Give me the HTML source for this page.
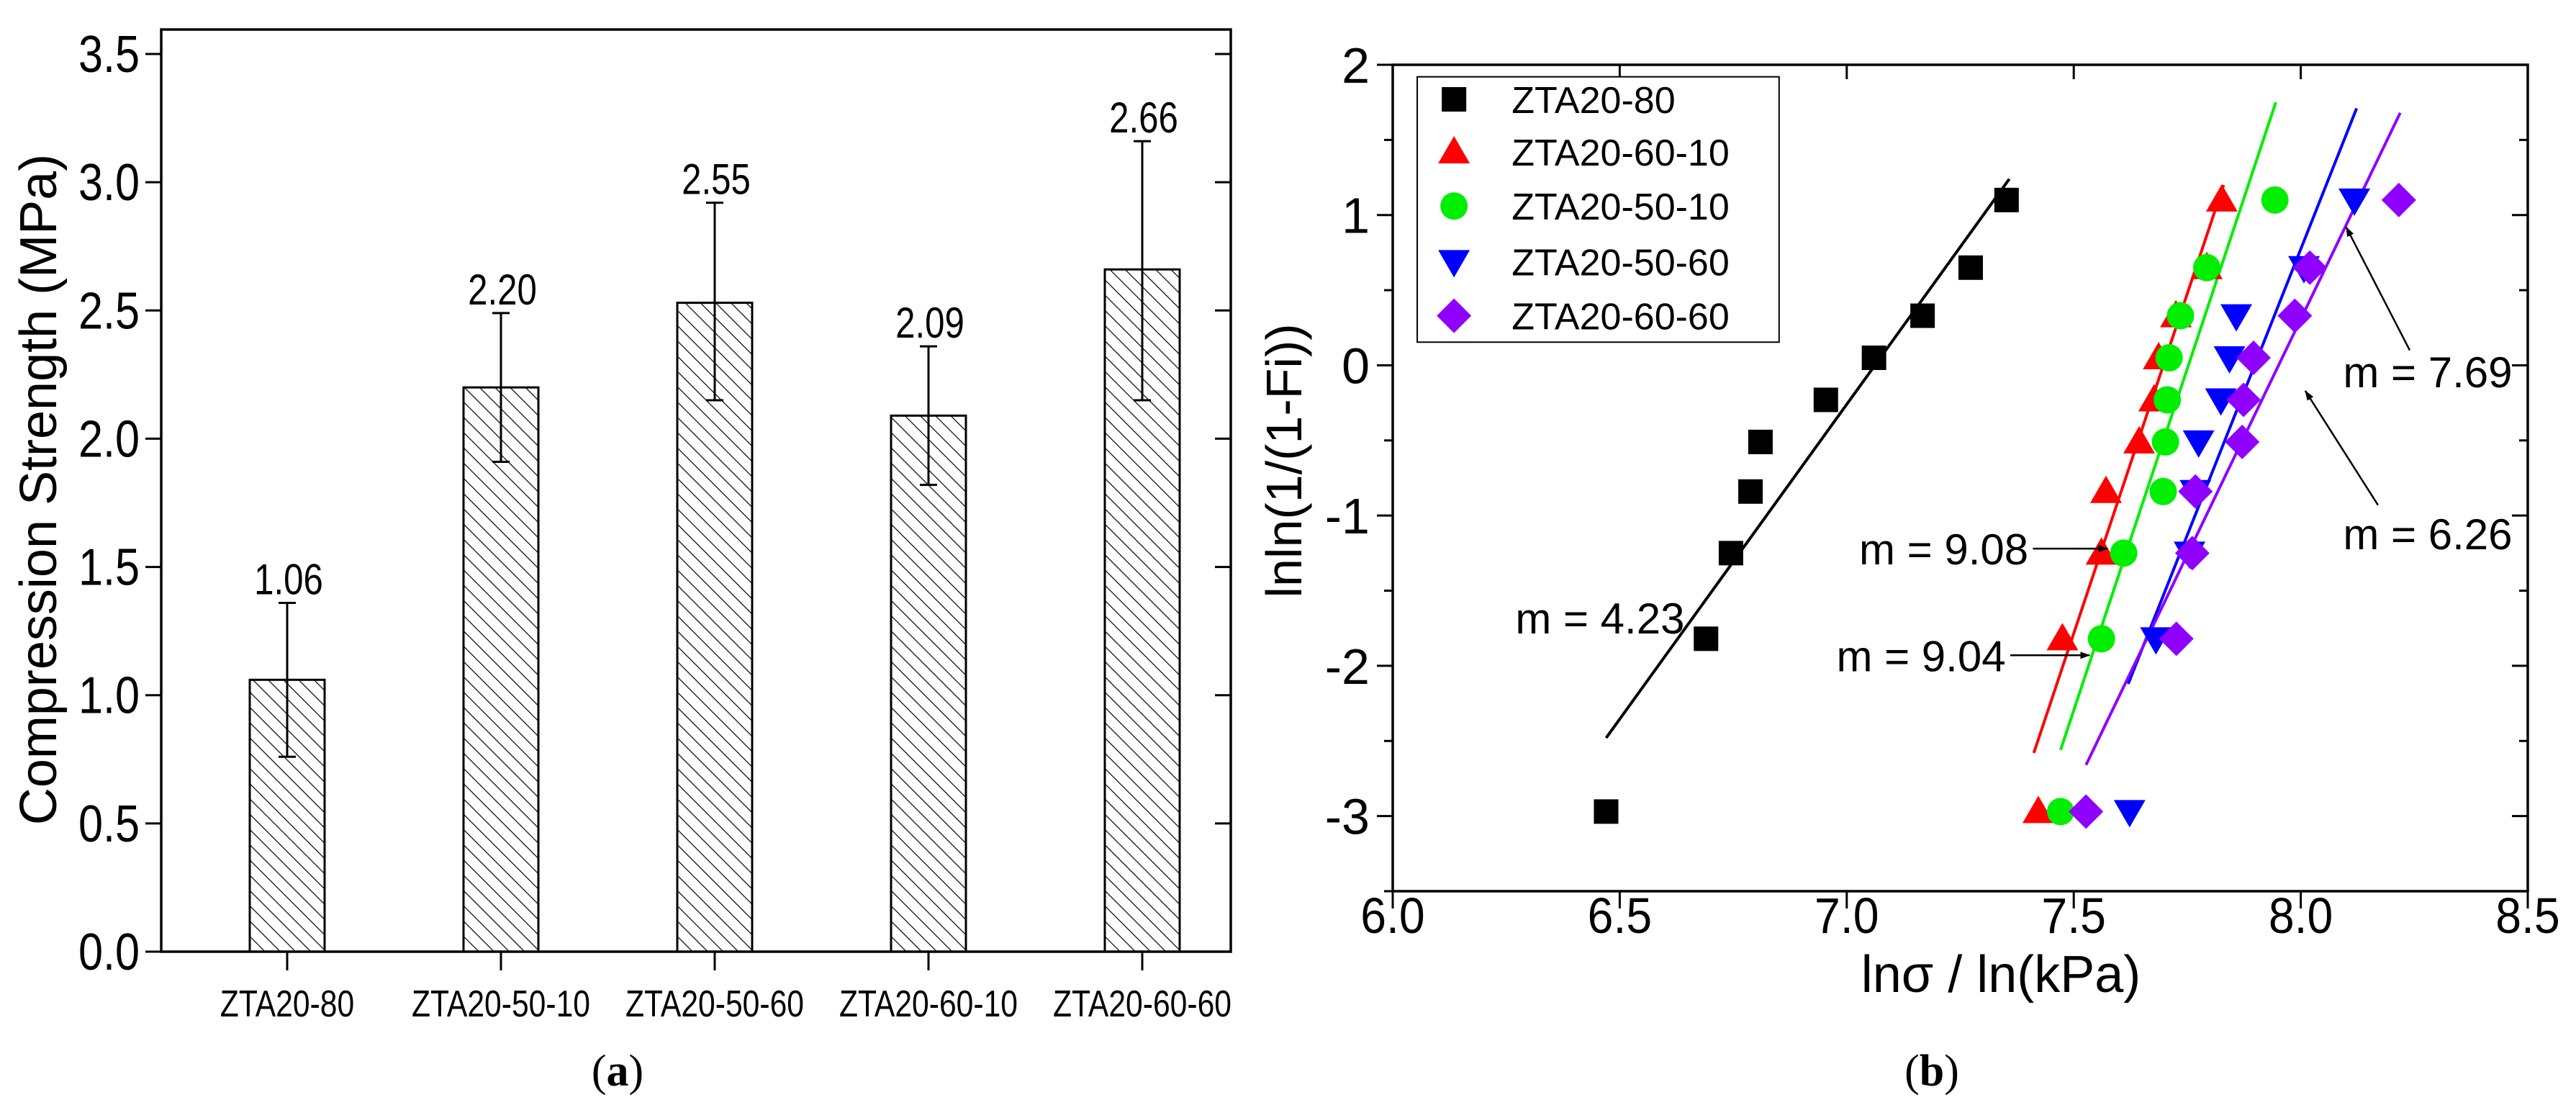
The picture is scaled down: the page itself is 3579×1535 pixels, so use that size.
<!DOCTYPE html>
<html><head><meta charset="utf-8"><title>Compression strength and Weibull plots</title>
<style>html,body{margin:0;padding:0;background:#fff}svg{display:block}text{font-family:"Liberation Sans",Arial,sans-serif;fill:#000}.serif{font-family:"Liberation Serif",serif}</style>
</head><body>
<svg id="fig" xmlns="http://www.w3.org/2000/svg" width="3579" height="1535" viewBox="0 0 3579 1535">
<defs>
<pattern id="hatch" patternUnits="userSpaceOnUse" width="15" height="15" patternTransform="rotate(-45)">
<rect width="15" height="15" fill="#fff"/><line x1="0" y1="0" x2="0" y2="15" stroke="#000" stroke-width="2.4"/>
</pattern>
<marker id="arrow" markerWidth="14" markerHeight="10" refX="13" refY="5" orient="auto" markerUnits="userSpaceOnUse" viewBox="0 0 14 10"><path d="M0,0 L14,5 L0,10 z" fill="#000"/></marker>
</defs>
<g id="chartA"></g>
<g id="chartB"></g>
</svg>
<script>
// ---- Chart (a) data ----
const catsA = ["ZTA20-80","ZTA20-50-10","ZTA20-50-60","ZTA20-60-10","ZTA20-60-60"];
const valsA = [1.06, 2.20, 2.53, 2.09, 2.66];
const valLabelsA = ["1.06","2.20","2.55","2.09","2.66"];
const errLowA = [0.76, 1.91, 2.15, 1.82, 2.15];
const errHighA = [1.36, 2.49, 2.92, 2.36, 3.16];
const yTicksA = [0.0,0.5,1.0,1.5,2.0,2.5,3.0,3.5];

// ---- Chart (b) data ----
const seriesNames = ["ZTA20-80","ZTA20-60-10","ZTA20-50-10","ZTA20-50-60","ZTA20-60-60"];
const yFi = [-2.97,-1.82,-1.25,-0.84,-0.51,-0.23,0.05,0.33,0.65,1.10];
const xBlack = [6.47,6.69,6.745,6.788,6.81,6.954,7.06,7.167,7.273,7.352];
const xRed = [7.422,7.475,7.561,7.571,7.644,7.677,7.687,7.725,7.793,7.826];
const xGreen = [7.471,7.561,7.61,7.697,7.702,7.706,7.71,7.735,7.793,7.943];
const xBlue = [7.623,7.681,7.755,7.768,7.775,7.824,7.843,7.858,8.007,8.118];
const xPurple = [7.527,7.726,7.761,7.768,7.871,7.874,7.896,7.987,8.02,8.216];
const fitX1 = [6.47,7.412,7.471,7.62,7.527];
const fitY1 = [-2.48,-2.58,-2.56,-2.12,-2.66];
const fitX2 = [7.358,7.83,7.945,8.123,8.219];
const fitY2 = [1.24,1.20,1.75,1.71,1.68];
const xTicksB = [6.0,6.5,7.0,7.5,8.0,8.5];
const yTicksB = [2,1,0,-1,-2,-3];

const NS="http://www.w3.org/2000/svg";
function mk(parent, tag, attrs, text){const e=document.createElementNS(NS,tag);for(const k in attrs)e.setAttribute(k,attrs[k]);if(text!==undefined)e.textContent=text;parent.appendChild(e);return e;}
function sx(x,s){return `translate(${x},0) scale(${s},1) translate(${-x},0)`;}

// ===== Chart A =====
const gA=document.getElementById('chartA');
const aL=224,aR=1710,aT=41,aB=1322;
const yA=v=>aB-(v/3.5)*(aB-75);
const xA=i=>399+i*297;
const barW=104;
let e;
catsA.forEach((c,i)=>{
  const x=xA(i);
  e=mk(gA,'rect',{x:x-barW/2,y:yA(valsA[i]),width:barW,height:aB-yA(valsA[i]),fill:'url(#hatch)',stroke:'#000','stroke-width':3});
  
  
  e=mk(gA,'path',{d:`M${x},${yA(errLowA[i])}V${yA(errHighA[i])}M${x-12},${yA(errHighA[i])}H${x+12}M${x-12},${yA(errLowA[i])}H${x+12}`,stroke:'#000','stroke-width':3,fill:'none'});
  
  
  e=mk(gA,'text',{x:x+2,y:yA(errHighA[i])-12,'font-size':60,'text-anchor':'middle',transform:sx(x+2,0.82)},valLabelsA[i]);
  
  
  mk(gA,'line',{x1:x,y1:aB,x2:x,y2:aB+26,stroke:'#000','stroke-width':3});
  e=mk(gA,'text',{x:x,y:1412,'font-size':52,'text-anchor':'middle',transform:sx(x,0.82)},c);
  
  
});
yTicksA.forEach(t=>{
  const y=yA(t);
  mk(gA,'line',{x1:aL-22,y1:y,x2:aL,y2:y,stroke:'#000','stroke-width':3});
  mk(gA,'line',{x1:aR-22,y1:y,x2:aR,y2:y,stroke:'#000','stroke-width':3});
  e=mk(gA,'text',{x:aL-30,y:y+25,'font-size':72,'text-anchor':'end',transform:sx(aL-30,0.85)},t.toFixed(1));
  
  
});
e=mk(gA,'rect',{x:aL,y:aT,width:aR-aL,height:aB-aT,fill:'none',stroke:'#000','stroke-width':3.5});


e=mk(gA,'text',{x:0,y:0,'font-size':72,'text-anchor':'middle',transform:'translate(78,680) rotate(-90)'},'Compression Strength (MPa)');


e=mk(gA,'text',{x:858,y:1508,'font-size':62,'text-anchor':'middle',class:'serif'});
e.innerHTML='(<tspan font-weight="bold">a</tspan>)';



// ===== Chart B =====
const gB=document.getElementById('chartB');
const bL=1935,bR=3512,bT=90,bB=1238;
const xB=v=>bL+(v-6)/2.5*(bR-bL);
const yB=v=>bB-(v+3.5)/5.5*(bB-bT);
xTicksB.forEach(t=>{
  const x=xB(t);
  mk(gB,'line',{x1:x,y1:bB,x2:x,y2:bB+24,stroke:'#000','stroke-width':3});
  mk(gB,'line',{x1:x,y1:bT,x2:x,y2:bT+20,stroke:'#000','stroke-width':3});
  e=mk(gB,'text',{x:x,y:1296,'font-size':70,'text-anchor':'middle',transform:sx(x,0.92)},t.toFixed(1));
  
  
});
for(let t=-3.5;t<=2.01;t+=0.5){
  const y=yB(t),major=Math.abs(t-Math.round(t))<0.01;
  mk(gB,'line',{x1:bL-(major?22:12),y1:y,x2:bL,y2:y,stroke:'#000','stroke-width':3});
  mk(gB,'line',{x1:bR-(major?22:12),y1:y,x2:bR,y2:y,stroke:'#000','stroke-width':3});
}
yTicksB.forEach(t=>{
  e=mk(gB,'text',{x:bL-32,y:yB(t)+25,'font-size':70,'text-anchor':'end'},String(t));
  
  
});
const colors=['#000','#ff0000','#00ee00','#0000ff','#8f00ff'];
seriesNames.forEach((n,i)=>{
  e=mk(gB,'line',{x1:xB(fitX1[i]),y1:yB(fitY1[i]),x2:xB(fitX2[i]),y2:yB(fitY2[i]),stroke:colors[i],'stroke-width':4});
  
  
});
function marker(g,kind,cx,cy,col){
  if(kind===0) return mk(g,'rect',{x:cx-17,y:cy-17,width:34,height:34,fill:col});
  if(kind===1) return mk(g,'polygon',{points:`${cx},${cy-22} ${cx+22},${cy+16} ${cx-22},${cy+16}`,fill:col});
  if(kind===2) return mk(g,'circle',{cx:cx,cy:cy,r:19,fill:col});
  if(kind===3) return mk(g,'polygon',{points:`${cx-22},${cy-16} ${cx+22},${cy-16} ${cx},${cy+22}`,fill:col});
  return mk(g,'polygon',{points:`${cx},${cy-24} ${cx+24},${cy} ${cx},${cy+24} ${cx-24},${cy}`,fill:col});
}
const xsAll=[xBlack,xRed,xGreen,xBlue,xPurple];
xsAll.forEach((xs,i)=>{
  xs.forEach((v,j)=>{
    e=marker(gB,i,xB(v),yB(yFi[j]),colors[i]);
    
    
  });
});
e=mk(gB,'rect',{x:bL,y:bT,width:bR-bL,height:bB-bT,fill:'none',stroke:'#000','stroke-width':3.5});


const lg=mk(gB,'g',{});


mk(lg,'rect',{x:xB(6.054),y:yB(1.92),width:xB(6.851)-xB(6.054),height:yB(0.154)-yB(1.92),fill:'#fff',stroke:'#000','stroke-width':2});
const legY=[1.77,1.42,1.06,0.69,0.33];
seriesNames.forEach((n,i)=>{
  const ge=mk(lg,'g',{});
  
  
  marker(ge,i,xB(6.135),yB(legY[i]),colors[i]);
  mk(ge,'text',{x:xB(6.262),y:yB(legY[i])+19,'font-size':52},n);
});
function ann(txt,tx,ty,anchor,ax1,ay1,ax2,ay2,name){
  const g=mk(gB,'g',{});
  
  
  mk(g,'text',{x:xB(tx),y:yB(ty)+22,'font-size':60,'text-anchor':anchor},txt);
  if(ax1!==null) mk(g,'line',{x1:xB(ax1),y1:yB(ay1),x2:xB(ax2),y2:yB(ay2),stroke:'#000','stroke-width':2.5,'marker-end':'url(#arrow)'});
}
ann('m = 4.23',6.27,-1.68,'start',null,0,0,0,'annotation-m-4-23');
ann('m = 9.08',7.40,-1.22,'end',7.41,-1.22,7.575,-1.22,'annotation-m-9-08');
ann('m = 9.04',7.35,-1.93,'end',7.36,-1.93,7.535,-1.93,'annotation-m-9-04');
ann('m = 7.69',8.466,-0.04,'end',8.24,0.10,8.1,0.92,'annotation-m-7-69');
ann('m = 6.26',8.466,-1.12,'end',8.17,-0.93,8.01,-0.17,'annotation-m-6-26');
e=mk(gB,'text',{x:2780,y:1378,'font-size':72,'text-anchor':'middle'},'lnσ / ln(kPa)');


e=mk(gB,'text',{x:0,y:0,'font-size':70,'text-anchor':'middle',transform:'translate(1808,640) rotate(-90)'},'lnln(1/(1-Fi))');


e=mk(gB,'text',{x:2684,y:1508,'font-size':62,'text-anchor':'middle',class:'serif'});
e.innerHTML='(<tspan font-weight="bold">b</tspan>)';


</script>
</body></html>
